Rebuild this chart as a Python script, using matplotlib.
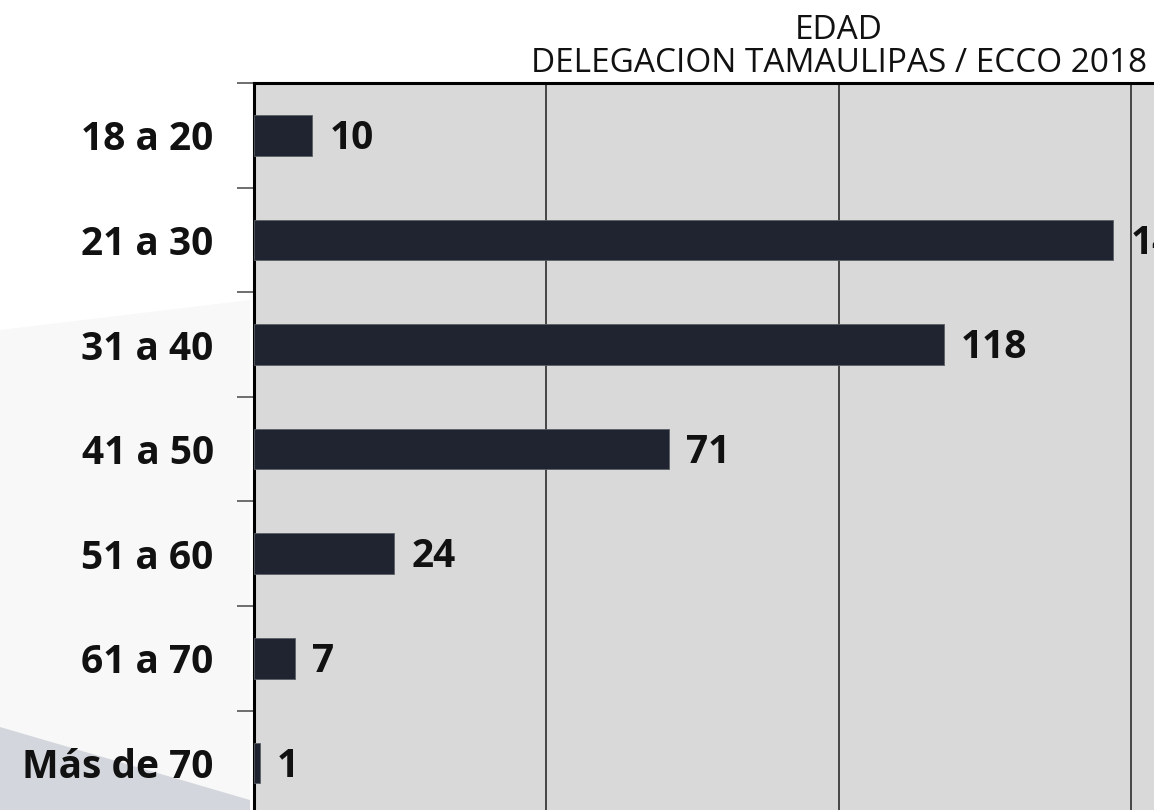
import numpy as np
import matplotlib as mpl
import matplotlib.pyplot as plt

mpl.rcParams['font.family'] = ['Open Sans', 'DejaVu Sans']

# data
categorias = ['18 a 20', '21 a 30', '31 a 40', '41 a 50', '51 a 60', '61 a 70', 'Más de 70']
valores = [10, 147, 118, 71, 24, 7, 1]
titulo = 'EDAD\nDELEGACION TAMAULIPAS / ECCO 2018'

W, H = 1154, 810
fig = plt.figure(figsize=(W / 100, H / 100), dpi=100)
fig.patch.set_facecolor('white')

# faint grey swoosh in the lower-left corner (background decoration)
bg = fig.add_axes([0, 0, 1, 1], zorder=0)
bg.set_xlim(0, W)
bg.set_ylim(H, 0)
bg.axis('off')
bg.fill([0, 250, 250, 0], [330, 300, 800, 727], color='#f8f8f9', lw=0)
bg.fill([0, 250, 250, 0], [727, 800, 810, 810], color='#d3d6dc', lw=0)

# axes: left 254px, top 83px, 5.846 px per unit, 7 rows of ~104.6px
left, top = 254, 83
xmax = 200
ax_w = xmax * 5.846
ax_h = 7 * 104.6
ax = fig.add_axes([left / W, (H - top - ax_h) / H, ax_w / W, ax_h / H], zorder=1)
ax.set_facecolor('#d9d9d9')

y = np.arange(len(categorias))
ax.barh(y, valores, height=0.39, color='#1f2430', edgecolor='#5a5f66', lw=0.6, zorder=3)
ax.set_xlim(0, xmax)
ax.set_ylim(len(categorias) - 0.5, -0.5)

for yi, v in zip(y, valores):
    ax.text(v + 2.9, yi + 0.03, str(v), va='center', ha='left',
            fontsize=28, fontweight='bold', color='#111111', zorder=4)

# vertical gridlines
ax.set_xticks([50, 100, 150])
ax.xaxis.grid(True, color='#3a3a3a', lw=1.3, zorder=1)
ax.tick_params(axis='x', length=0, labelbottom=False)

# category boundary ticks, labels at row centres
ax.set_yticks(np.arange(-0.5, len(categorias), 1))
ax.set_yticklabels([])
ax.tick_params(axis='y', which='major', length=12, width=1.2, color='#555555')
ax.set_yticks(y, minor=True)
ax.set_yticklabels(categorias, minor=True, fontsize=28, fontweight='bold', color='#111111')
ax.tick_params(axis='y', which='minor', length=0, pad=29)

for s in ['right', 'bottom']:
    ax.spines[s].set_visible(False)
ax.spines['left'].set_linewidth(2.2)
ax.spines['top'].set_linewidth(2.2)

ax.set_title(titulo, fontsize=24, color='#111111', linespacing=1.0, pad=8)

fig.savefig('out.png', dpi=100)
